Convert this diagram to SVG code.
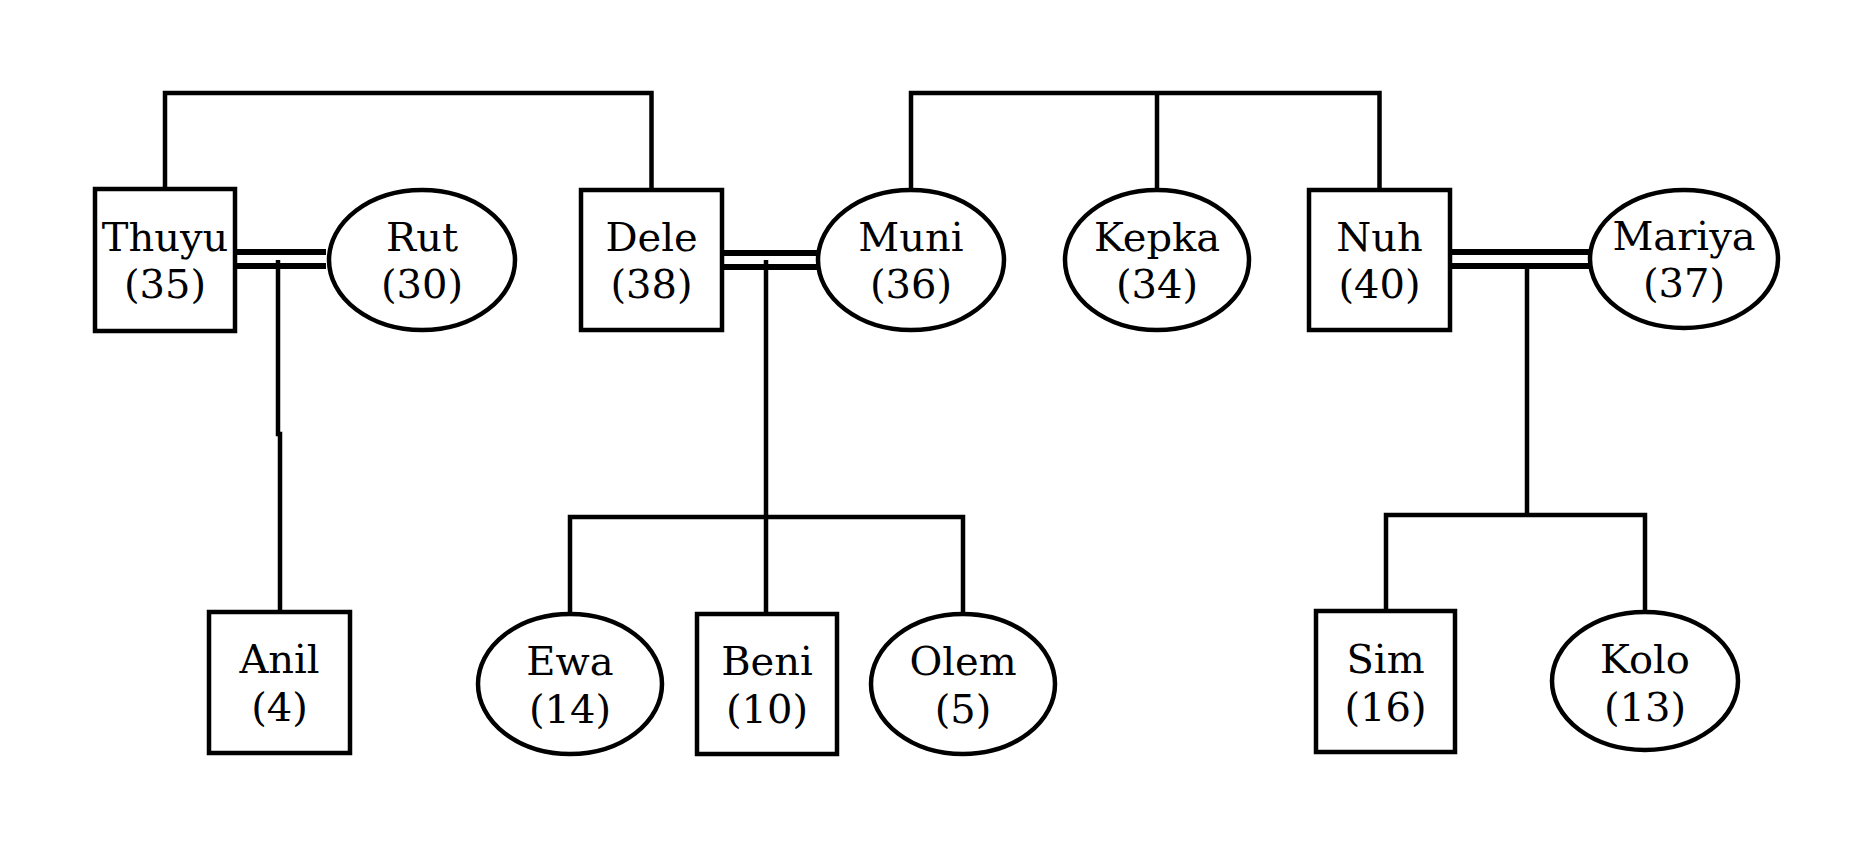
<svg xmlns="http://www.w3.org/2000/svg" width="1870" height="848" viewBox="0 0 1870 848">
<style>
.n{fill:#fff;stroke:#000;stroke-width:4.5}
.c{fill:none;stroke:#000;stroke-width:4.5}
.m{fill:none;stroke:#000;stroke-width:6}
text{font-family:"DejaVu Serif","Liberation Serif",serif;font-size:40px;fill:#000;text-anchor:middle}
</style>
<rect width="1870" height="848" fill="#fff"/>
<g id="connectors">
<path class="c" d="M165,189 V93 H651.5 V190"/>
<path class="c" d="M911,190 V93 H1379.5 V190 M1157,93 V190"/>
<path class="m" d="M235,252 H326 M235,266 H326"/>
<path class="m" d="M722,253 H817 M722,267 H817"/>
<path class="m" d="M1450,252 H1589 M1450,266 H1589"/>
<path class="c" d="M278,260 V434 H280 V612"/>
<path class="c" d="M766,260 V614 M570,614 V517 H963 V614"/>
<path class="c" d="M1527,269 V515 M1386,611 V515 H1645 V612"/>
</g>
<g id="thuyu"><rect class="n" x="95" y="189" width="140" height="142"/><text x="165" y="251">Thuyu</text><text x="165" y="298">(35)</text></g>
<g id="rut"><ellipse class="n" cx="422" cy="260" rx="93" ry="70"/><text x="422" y="251">Rut</text><text x="422" y="298">(30)</text></g>
<g id="dele"><rect class="n" x="581" y="190" width="141" height="140"/><text x="651.5" y="251">Dele</text><text x="651.5" y="298">(38)</text></g>
<g id="muni"><ellipse class="n" cx="911" cy="260" rx="93" ry="70"/><text x="911" y="251">Muni</text><text x="911" y="298">(36)</text></g>
<g id="kepka"><ellipse class="n" cx="1157" cy="260" rx="92" ry="70"/><text x="1157" y="251">Kepka</text><text x="1157" y="298">(34)</text></g>
<g id="nuh"><rect class="n" x="1309" y="190" width="141" height="140"/><text x="1379.5" y="251">Nuh</text><text x="1379.5" y="298">(40)</text></g>
<g id="mariya"><ellipse class="n" cx="1684" cy="259" rx="94" ry="69"/><text x="1684" y="250">Mariya</text><text x="1684" y="297">(37)</text></g>
<g id="anil"><rect class="n" x="209" y="612" width="141" height="141"/><text x="279.5" y="673">Anil</text><text x="279.5" y="721">(4)</text></g>
<g id="ewa"><ellipse class="n" cx="570" cy="684" rx="92" ry="70"/><text x="570" y="675">Ewa</text><text x="570" y="723">(14)</text></g>
<g id="beni"><rect class="n" x="697" y="614" width="140" height="140"/><text x="767" y="675">Beni</text><text x="767" y="723">(10)</text></g>
<g id="olem"><ellipse class="n" cx="963" cy="684" rx="92" ry="70"/><text x="963" y="675">Olem</text><text x="963" y="723">(5)</text></g>
<g id="sim"><rect class="n" x="1316" y="611" width="139" height="141"/><text x="1385.5" y="673">Sim</text><text x="1385.5" y="721">(16)</text></g>
<g id="kolo"><ellipse class="n" cx="1645" cy="681" rx="93" ry="69"/><text x="1645" y="673">Kolo</text><text x="1645" y="721">(13)</text></g>
</svg>
